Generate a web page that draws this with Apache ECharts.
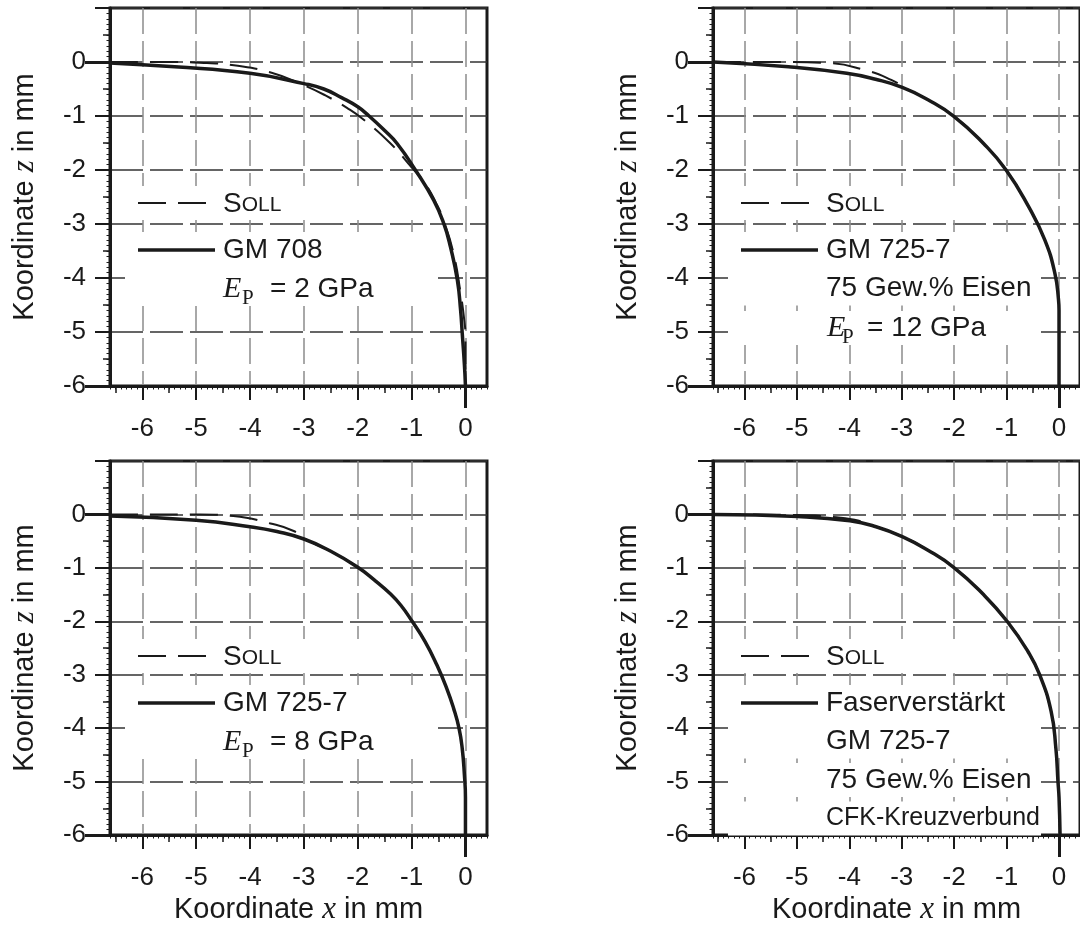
<!DOCTYPE html>
<html>
<head>
<meta charset="utf-8">
<script src="https://cdn.jsdelivr.net/npm/echarts@6/dist/echarts.min.js"></script>
<style>
  html, body { margin: 0; padding: 0; background: #ffffff; }
  #chart { width: 1080px; height: 926px; }
</style>
</head>
<body>
<div id="chart"></div>
<script>
// Axis ranges and labelled tick values (mm)
const xRange = [-6.6, 0.4];
const zRange = [-6, 1];
const xTickValues = [-6, -5, -4, -3, -2, -1, 0];
const zTickValues = [0, -1, -2, -3, -4, -5, -6];

// Profile data [x, z] in mm
// GM 708, E_P = 2 GPa
const sollP1 = [[-6.6, 0], [-5.4, 0], [-4.8, -0.02], [-4.3, -0.06], [-3.6, -0.2], [-3.0, -0.43], [-2.6, -0.62], [-2.2, -0.85], [-1.9, -1.06], [-1.4, -1.5], [-1.0, -1.95], [-0.75, -2.25], [-0.55, -2.6], [-0.4, -2.95], [-0.22, -3.55], [-0.09, -4.28], [-0.02, -4.8], [0, -5.1], [0, -6]];
const gmP1 = [[-6.6, -0.02], [-5.4, -0.09], [-4.0, -0.21], [-3.0, -0.4], [-2.63, -0.5], [-2.3, -0.66], [-2.0, -0.83], [-1.79, -1.0], [-1.5, -1.27], [-1.27, -1.51], [-0.93, -2.0], [-0.59, -2.56], [-0.4, -3.0], [-0.28, -3.42], [-0.15, -4.04], [-0.09, -4.6], [-0.06, -5.02], [-0.02, -5.6], [0, -6]];

// GM 725-7, 75 Gew.% Eisen, E_P = 12 GPa
const sollP2 = [[-6.6, 0], [-5.2, 0], [-4.4, -0.02], [-3.7, -0.15], [-3.2, -0.33], [-2.9, -0.5], [-2.5, -0.7], [-2.0, -1.01], [-1.44, -1.51], [-1.01, -2.0], [-0.58, -2.68], [-0.27, -3.3], [-0.08, -3.91], [-0.01, -4.4], [0, -4.6], [0, -6]];
const gmP2 = [[-6.6, 0], [-5.16, -0.09], [-4.05, -0.21], [-3.5, -0.32], [-2.99, -0.47], [-2.5, -0.7], [-2.0, -1.01], [-1.44, -1.51], [-1.01, -2.0], [-0.58, -2.68], [-0.27, -3.3], [-0.08, -3.91], [-0.01, -4.4], [0, -4.6], [0, -6]];

// GM 725-7, E_P = 8 GPa
const sollP3 = [[-6.6, 0], [-4.93, 0], [-4.31, -0.03], [-3.62, -0.17], [-3.19, -0.31], [-2.9, -0.5], [-2.5, -0.69], [-2.0, -0.99], [-1.7, -1.22], [-1.39, -1.49], [-1.2, -1.7], [-0.99, -2.0], [-0.75, -2.38], [-0.53, -2.82], [-0.35, -3.25], [-0.22, -3.63], [-0.12, -4.0], [-0.06, -4.38], [-0.02, -4.87], [0, -5.3], [0, -6]];
const gmP3 = [[-6.6, -0.03], [-5.0, -0.11], [-4.0, -0.23], [-3.5, -0.32], [-3.0, -0.46], [-2.5, -0.69], [-2.0, -0.99], [-1.7, -1.22], [-1.39, -1.49], [-1.2, -1.7], [-0.99, -2.0], [-0.75, -2.38], [-0.53, -2.82], [-0.35, -3.25], [-0.22, -3.63], [-0.12, -4.0], [-0.06, -4.38], [-0.02, -4.87], [0, -5.3], [0, -6]];

// Faserverstaerkt GM 725-7, CFK-Kreuzverbund
const sollP4 = [[-6.6, 0], [-5.0, -0.01], [-4.4, -0.04], [-3.9, -0.1], [-3.49, -0.23], [-3.0, -0.41], [-2.5, -0.67], [-2.01, -0.99], [-1.45, -1.49], [-0.99, -2.0], [-0.59, -2.57], [-0.37, -3.0], [-0.15, -3.69], [-0.06, -4.38], [-0.02, -5.0], [0, -5.3], [0.02, -6]];
const gmP4 = [[-6.6, 0], [-4.98, -0.04], [-3.99, -0.12], [-3.49, -0.23], [-3.0, -0.41], [-2.5, -0.67], [-2.01, -0.99], [-1.45, -1.49], [-0.99, -2.0], [-0.59, -2.57], [-0.37, -3.0], [-0.15, -3.69], [-0.06, -4.38], [-0.02, -5.0], [0, -5.3], [0.02, -6]];

// Legend texts
const sollName = 'SOLL';
const legendRows = [
  ['GM 708'],
  ['GM 725-7', '75 Gew.% Eisen'],
  ['GM 725-7'],
  ['Faserverstärkt', 'GM 725-7', '75 Gew.% Eisen', 'CFK-Kreuzverbund']
];
const modulus = ['2 GPa', '12 GPa', '8 GPa', null];

const FONT = "'Liberation Sans', Arial, Helvetica, sans-serif";
const SERIF = "'Liberation Serif', 'Times New Roman', serif";
const INK = '#1a1a1a';

// Panel placement
const panels = [
  { left: 110, top: 8,   height: 378, soll: sollP1, meas: gmP1, xTitle: false, epGap: [113, 132, 160] },
  { left: 713, top: 8,   height: 378, soll: sollP2, meas: gmP2, xTitle: false, epGap: [114, 129, 154] },
  { left: 110, top: 461, height: 376, soll: sollP3, meas: gmP3, xTitle: true,  epGap: [113, 132, 160] },
  { left: 713, top: 461, height: 376, soll: sollP4, meas: gmP4, xTitle: true,  epGap: [114, 129, 154] }
];
const PLOT_W = 377;

const halfX = [];
for (let k = -13; k <= -1; k += 2) halfX.push(k / 2);

const grids = [], xAxes = [], yAxes = [], series = [], graphics = [];

panels.forEach((p, i) => {
  grids.push({
    left: p.left, top: p.top, width: PLOT_W, height: p.height,
    show: true, borderColor: INK, borderWidth: 3, backgroundColor: 'transparent'
  });

  const xBase = {
    type: 'value', gridIndex: i, min: xRange[0], max: xRange[1], position: 'bottom',
    axisLine: { show: false, onZero: false }, axisLabel: { show: false },
    splitLine: { show: false }, axisTick: { show: false }
  };
  const yBase = {
    type: 'value', gridIndex: i, min: zRange[0], max: zRange[1], position: 'left',
    axisLine: { show: false, onZero: false }, axisLabel: { show: false },
    splitLine: { show: false }, axisTick: { show: false }
  };

  // main x axis: labels, integer ticks, vertical grid
  xAxes.push(Object.assign({}, xBase, {
    axisLine: { show: true, onZero: false, lineStyle: { color: INK, width: 3 } },
    axisTick: { show: true, customValues: xTickValues, length: 14, lineStyle: { color: INK, width: 2 } },
    axisLabel: { show: true, customValues: xTickValues, margin: 30, fontSize: 26, fontFamily: FONT, color: INK },
    splitLine: { show: true, lineStyle: { color: '#8c8c8c', width: 1.5, type: [26, 7] } },
    name: p.xTitle ? '{a|Koordinate }{i|x}{a| in mm}' : '',
    nameLocation: 'middle', nameGap: 59,
    nameTextStyle: { rich: {
      a: { fontSize: 29, fontFamily: FONT, color: INK },
      i: { fontSize: 31, fontFamily: SERIF, fontStyle: 'italic', color: INK }
    } }
  }));
  // half-unit ticks
  xAxes.push(Object.assign({}, xBase, {
    axisTick: { show: true, customValues: halfX, length: 7, lineStyle: { color: INK, width: 1.5 } }
  }));
  // 0.1 mm ticks
  xAxes.push(Object.assign({}, xBase, {
    interval: 0.1,
    axisTick: { show: true, length: 3.5, lineStyle: { color: INK, width: 1 } }
  }));
  // long tick at x = 0
  xAxes.push(Object.assign({}, xBase, {
    axisTick: { show: true, customValues: [0], length: 22, lineStyle: { color: INK, width: 3 } }
  }));

  // main y axis
  yAxes.push(Object.assign({}, yBase, {
    interval: 1,
    axisLine: { show: true, onZero: false, lineStyle: { color: INK, width: 3 } },
    axisTick: { show: true, length: 15, lineStyle: { color: INK, width: 2 } },
    axisLabel: { show: true, customValues: zTickValues, margin: 24, fontSize: 26, fontFamily: FONT, color: INK },
    splitLine: { show: true, lineStyle: { color: '#333333', width: 1.5, type: [33, 7] } },
    name: '{a|Koordinate }{i|z}{a| in mm}',
    nameLocation: 'middle', nameGap: 70, nameRotate: 90,
    nameTextStyle: { rich: {
      a: { fontSize: 29, fontFamily: FONT, color: INK },
      i: { fontSize: 31, fontFamily: SERIF, fontStyle: 'italic', color: INK }
    } }
  }));
  yAxes.push(Object.assign({}, yBase, {
    interval: 0.5,
    axisTick: { show: true, length: 7, lineStyle: { color: INK, width: 1.5 } }
  }));
  yAxes.push(Object.assign({}, yBase, {
    interval: 0.1,
    axisTick: { show: true, length: 3.5, lineStyle: { color: INK, width: 1 } }
  }));
  yAxes.push(Object.assign({}, yBase, {
    axisTick: { show: true, customValues: [0, -6], length: 25, lineStyle: { color: INK, width: 3 } }
  }));

  const ax = i * 4;
  series.push({
    name: sollName, type: 'line', xAxisIndex: ax, yAxisIndex: ax,
    data: p.soll, symbol: 'none', smooth: 0.5, z: 5,
    lineStyle: { color: INK, width: 2, type: [28, 12] }
  });
  series.push({
    name: legendRows[i][0], type: 'line', xAxisIndex: ax, yAxisIndex: ax,
    data: p.meas, symbol: 'none', smooth: 0.5, z: 6,
    lineStyle: { color: INK, width: 3.5 }
  });

  // legend block inside the plot, above the grid lines and below the curves
  const L = p.left, T = p.top;
  const rowY = [T + 195, T + 242];
  for (let k = 1; k < legendRows[i].length; k++) rowY.push(T + 242 + 38.5 * k);
  if (modulus[i]) rowY.push(T + 242 + 39 * legendRows[i].length);

  rowY.forEach(y => graphics.push({
    type: 'rect', z: 1, silent: true,
    shape: { x: L + 15, y: y - 17, width: 313, height: 34 },
    style: { fill: '#ffffff' }
  }));
  graphics.push({
    type: 'line', z: 2, silent: true,
    shape: { x1: L + 28, y1: rowY[0], x2: L + 97, y2: rowY[0] },
    style: { stroke: INK, lineWidth: 2, lineDash: [28, 12] }
  });
  graphics.push({
    type: 'line', z: 2, silent: true,
    shape: { x1: L + 28, y1: rowY[1], x2: L + 105, y2: rowY[1] },
    style: { stroke: INK, lineWidth: 3.5 }
  });
  graphics.push({
    type: 'text', z: 2, silent: true, x: L + 113, y: rowY[0],
    style: {
      text: '{b|' + sollName[0] + '}{s|' + sollName.slice(1) + '}',
      verticalAlign: 'middle',
      rich: {
        b: { fontSize: 28, fontFamily: FONT, fill: INK, verticalAlign: 'bottom', lineHeight: 30 },
        s: { fontSize: 21, fontFamily: FONT, fill: INK, verticalAlign: 'bottom', lineHeight: 30, padding: [0, 0, 2, 0] }
      }
    }
  });
  legendRows[i].forEach((t, k) => {
    const small = t === 'CFK-Kreuzverbund';
    graphics.push({
      type: 'text', z: 2, silent: true, x: L + 113, y: rowY[1 + k],
      style: { text: t, fontSize: small ? 25 : 28, fontFamily: FONT, fill: INK, verticalAlign: 'middle' }
    });
  });
  if (modulus[i]) {
    const y = rowY[rowY.length - 1];
    const g = p.epGap;
    graphics.push({
      type: 'text', z: 2, silent: true, x: L + g[0], y: y,
      style: { text: 'E', fontSize: 30, fontFamily: SERIF, fontStyle: 'italic', fill: INK, verticalAlign: 'middle' }
    });
    graphics.push({
      type: 'text', z: 2, silent: true, x: L + g[1], y: y + 9,
      style: { text: 'P', fontSize: 21, fontFamily: SERIF, fill: INK, verticalAlign: 'middle' }
    });
    graphics.push({
      type: 'text', z: 2, silent: true, x: L + g[2], y: y,
      style: { text: '= ' + modulus[i], fontSize: 28, fontFamily: FONT, fill: INK, verticalAlign: 'middle' }
    });
  }
});

const chart = echarts.init(document.getElementById('chart'), null, { renderer: 'canvas' });
chart.setOption({
  animation: false,
  backgroundColor: '#ffffff',
  grid: grids,
  xAxis: xAxes,
  yAxis: yAxes,
  series: series,
  graphic: graphics
});
</script>
</body>
</html>
